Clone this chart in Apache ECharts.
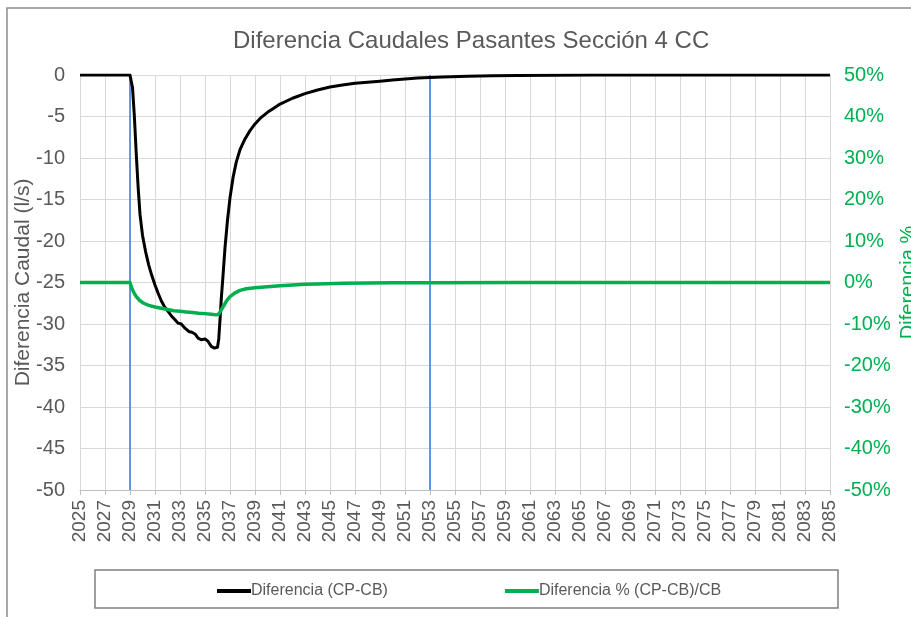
<!DOCTYPE html>
<html>
<head>
<meta charset="utf-8">
<script src="https://cdn.jsdelivr.net/npm/echarts@6/dist/echarts.min.js"></script>
<style>
html,body{margin:0;padding:0;background:#fff;}
#chart{width:911px;height:617px;}
</style>
</head>
<body>
<div id="chart"></div>
<script>
// ---- Data ----
var chartTitle = 'Diferencia Caudales Pasantes Sección 4 CC';
var seriesNames = ['Diferencia (CP-CB)', 'Diferencia % (CP-CB)/CB'];
var leftAxisName = 'Diferencia Caudal (l/s)';
var rightAxisName = 'Diferencia %';

var diffYears = [2025,2029,2029.2,2029.35,2029.5,2029.65,2029.8,2030.0,2030.25,2030.5,2030.75,2031.0,2031.25,2031.5,2031.75,2032.0,2032.3,2032.6,2032.85,2033.1,2033.4,2033.7,2033.95,2034.2,2034.45,2034.7,2035.0,2035.25,2035.5,2035.75,2036.0,2036.1,2036.2,2036.3,2036.45,2036.6,2036.8,2037.0,2037.25,2037.5,2037.8,2038.2,2038.6,2039.0,2039.5,2040.0,2040.5,2041.0,2042.0,2043.0,2044.0,2045.0,2046.0,2047.0,2048.0,2049.0,2050.0,2051.0,2052.0,2053.0,2054,2056,2058,2060,2063,2066,2085];
var diffValues = [0,0,-1.5,-5,-9.5,-13.5,-16.8,-19.3,-21.3,-22.9,-24.2,-25.3,-26.3,-27.2,-27.9,-28.4,-29.0,-29.5,-29.9,-30.0,-30.5,-30.9,-31.0,-31.2,-31.7,-31.9,-31.8,-32.1,-32.7,-32.9,-32.8,-31.8,-29.5,-27.0,-24.0,-20.8,-17.5,-14.8,-12.3,-10.5,-9.0,-7.7,-6.7,-5.9,-5.1,-4.5,-4.0,-3.5,-2.8,-2.25,-1.8,-1.45,-1.2,-1.0,-0.88,-0.75,-0.6,-0.47,-0.37,-0.29,-0.23,-0.15,-0.09,-0.05,-0.02,0,0];

var pctYears = [2025,2029,2029.1,2029.3,2029.5,2029.8,2030.1,2030.5,2031.0,2031.5,2032.0,2032.5,2033.0,2033.5,2034.0,2034.5,2035.0,2035.5,2035.9,2036.1,2036.3,2036.5,2036.75,2037.0,2037.4,2037.8,2038.3,2039.0,2040.0,2041.0,2042.0,2043.0,2044.0,2046.0,2048.0,2050.0,2053.0,2060.0,2085.0];
var pctValues = [0,0,-1.0,-2.4,-3.4,-4.4,-5.0,-5.5,-5.9,-6.2,-6.5,-6.8,-6.95,-7.1,-7.25,-7.4,-7.5,-7.65,-7.8,-7.6,-6.6,-5.6,-4.3,-3.4,-2.5,-1.9,-1.5,-1.25,-1.0,-0.8,-0.6,-0.45,-0.35,-0.2,-0.12,-0.08,-0.04,-0.01,0];

var markerYears = [2029, 2053];

// ---- Build ----
function pairs(xs, ys){ return xs.map(function(x,i){ return [x, ys[i]]; }); }

var TXT = '#595959';
var GREEN = '#00B050';
var FONT = 'Liberation Sans, Arial, sans-serif';

var series = [];
markerYears.forEach(function(y, i){
  series.push({
    name: 'marker' + i, type: 'line', yAxisIndex: 0, silent: true,
    symbol: 'none', z: 1,
    lineStyle: {color: '#2f7be6', width: 1.5},
    data: [[y, 0], [y, -50]]
  });
});
series.push({
  name: seriesNames[0], type: 'line', yAxisIndex: 0, symbol: 'none', z: 3,
  lineStyle: {color: '#000000', width: 3, join: 'round'},
  itemStyle: {color: '#000000'},
  data: pairs(diffYears, diffValues)
});
series.push({
  name: seriesNames[1], type: 'line', yAxisIndex: 1, symbol: 'none', z: 4,
  lineStyle: {color: GREEN, width: 3.5, join: 'round'},
  itemStyle: {color: GREEN},
  data: pairs(pctYears, pctValues)
});

var chart = echarts.init(document.getElementById('chart'), null, {renderer: 'canvas'});
chart.setOption({
  animation: false,
  backgroundColor: '#ffffff',
  textStyle: {fontFamily: FONT},
  title: {
    text: chartTitle, left: 228, top: 24,
    textStyle: {color: TXT, fontSize: 24, fontWeight: 'normal', fontFamily: FONT}
  },
  graphic: [
    {type: 'rect', shape: {x: 7, y: 8, width: 1000, height: 1000},
     style: {fill: 'none', stroke: '#8c8c8c', lineWidth: 1.5}, silent: true, z: -10},
    {type: 'rect', shape: {x: 95, y: 570, width: 743, height: 38},
     style: {fill: 'none', stroke: '#7f7f7f', lineWidth: 1.5}, silent: true, z: -10}
  ],
  legend: {
    data: seriesNames, left: 212, top: 578, itemGap: 117,
    icon: 'rect', itemWidth: 34, itemHeight: 4,
    textStyle: {color: TXT, fontSize: 16, fontFamily: FONT, padding: [0,0,0,-5]}
  },
  grid: {left: 80, right: 81, top: 75, bottom: 127, containLabel: false, outerBoundsMode: 'none'},
  xAxis: {
    type: 'value', min: 2025, max: 2085, interval: 2,
    axisLine: {show: true, onZero: false, lineStyle: {color: '#bfbfbf', width: 1}},
    axisTick: {show: true, length: 5, lineStyle: {color: '#bfbfbf'}},
    splitLine: {show: true, lineStyle: {color: '#d9d9d9', width: 1}},
    axisLabel: {rotate: 90, color: TXT, fontSize: 19, fontFamily: FONT, margin: 10,
      formatter: function(v){ return String(v); }}
  },
  yAxis: [
    {
      type: 'value', min: -50, max: 0, interval: 5, position: 'left',
      name: leftAxisName, nameLocation: 'middle', nameGap: 46, nameRotate: 90,
      nameMoveOverlap: false,
      nameTextStyle: {color: TXT, fontSize: 21, fontFamily: FONT},
      axisLine: {show: false}, axisTick: {show: false},
      splitLine: {show: true, lineStyle: {color: '#d9d9d9', width: 1}},
      axisLabel: {color: TXT, fontSize: 20, fontFamily: FONT, margin: 15}
    },
    {
      type: 'value', min: -50, max: 50, interval: 10, position: 'right',
      name: rightAxisName, nameLocation: 'middle', nameGap: 68, nameRotate: 90,
      nameMoveOverlap: false,
      nameTextStyle: {color: GREEN, fontSize: 20, fontFamily: FONT},
      axisLine: {show: false}, axisTick: {show: false}, splitLine: {show: false},
      axisLabel: {color: GREEN, fontSize: 20, fontFamily: FONT, margin: 14,
        formatter: function(v){ return v + '%'; }}
    }
  ],
  series: series
});
</script>
</body>
</html>
